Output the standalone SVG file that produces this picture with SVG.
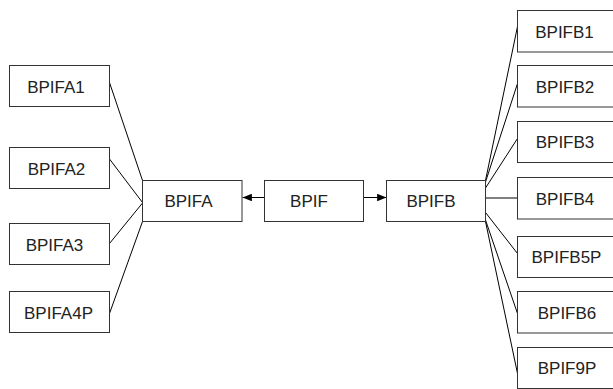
<svg xmlns="http://www.w3.org/2000/svg" width="613" height="389" viewBox="0 0 613 389">
<style>
.box rect{fill:#fff;stroke:#333;stroke-width:1}
.box text{font-family:"Liberation Sans",Arial,sans-serif;font-size:17px;fill:#222;text-anchor:middle}
.conn line{stroke:#000;stroke-width:1;fill:none}
</style>
<defs>
<marker id="ah" viewBox="0 0 10 8" refX="10" refY="4" markerWidth="10" markerHeight="7.5" orient="auto" markerUnits="userSpaceOnUse"><path d="M0,0 L10,4 L0,8 z" fill="#000"/></marker>
</defs>
<rect width="613" height="389" fill="#fff"/>
<g id="connectors" class="conn">
<line x1="109.5" y1="82.5" x2="142.5" y2="180.5"/>
<line x1="109.5" y1="159" x2="142.5" y2="202.5"/>
<line x1="109.5" y1="243.5" x2="142.5" y2="203"/>
<line x1="109.5" y1="313.5" x2="142.5" y2="221.5"/>
<line x1="264.5" y1="197.5" x2="242.5" y2="197.5" marker-end="url(#ah)"/>
<line x1="363.5" y1="197.5" x2="386.5" y2="197.5" marker-end="url(#ah)"/>
<line x1="485.5" y1="180.5" x2="517.5" y2="26.5"/>
<line x1="485.5" y1="182" x2="517.5" y2="83.5"/>
<line x1="485.5" y1="188" x2="517.5" y2="138.5"/>
<line x1="485.5" y1="198" x2="517.5" y2="198"/>
<line x1="485.5" y1="212.5" x2="517.5" y2="253.5"/>
<line x1="485.5" y1="220" x2="517.5" y2="313.5"/>
<line x1="485.5" y1="221.5" x2="517.5" y2="373.5"/>
</g>
<g id="BPIFA1" class="box"><rect x="9.5" y="65.5" width="100" height="41"/><text x="56" y="92.5">BPIFA1</text></g>
<g id="BPIFA2" class="box"><rect x="9.5" y="147.5" width="100" height="41"/><text x="56.5" y="174.5">BPIFA2</text></g>
<g id="BPIFA3" class="box"><rect x="9.5" y="223.5" width="100" height="41"/><text x="54.5" y="250.5">BPIFA3</text></g>
<g id="BPIFA4P" class="box"><rect x="9.5" y="291.5" width="100" height="41"/><text x="58.5" y="318.5">BPIFA4P</text></g>
<g id="BPIFA" class="box"><rect x="142.5" y="180.5" width="99.5" height="41"/><text x="188.5" y="207">BPIFA</text></g>
<g id="BPIF" class="box"><rect x="264.5" y="180.5" width="99" height="41"/><text x="309" y="207">BPIF</text></g>
<g id="BPIFB" class="box"><rect x="386.5" y="180.5" width="99" height="41"/><text x="431" y="207">BPIFB</text></g>
<g id="BPIFB1" class="box"><rect x="517.5" y="10.5" width="100" height="41.5"/><text x="564.5" y="37.5">BPIFB1</text></g>
<g id="BPIFB2" class="box"><rect x="517.5" y="65.5" width="100" height="41.5"/><text x="565" y="92.5">BPIFB2</text></g>
<g id="BPIFB3" class="box"><rect x="517.5" y="121.5" width="100" height="41"/><text x="565" y="148">BPIFB3</text></g>
<g id="BPIFB4" class="box"><rect x="517.5" y="177.5" width="100" height="41.5"/><text x="565" y="204.5">BPIFB4</text></g>
<g id="BPIFB5P" class="box"><rect x="517.5" y="236.5" width="100" height="41"/><text x="566.5" y="263">BPIFB5P</text></g>
<g id="BPIFB6" class="box"><rect x="517.5" y="291.5" width="100" height="41.5"/><text x="567" y="318.5">BPIFB6</text></g>
<g id="BPIF9P" class="box"><rect x="517.5" y="347.5" width="100" height="41"/><text x="567" y="374">BPIF9P</text></g>
</svg>
